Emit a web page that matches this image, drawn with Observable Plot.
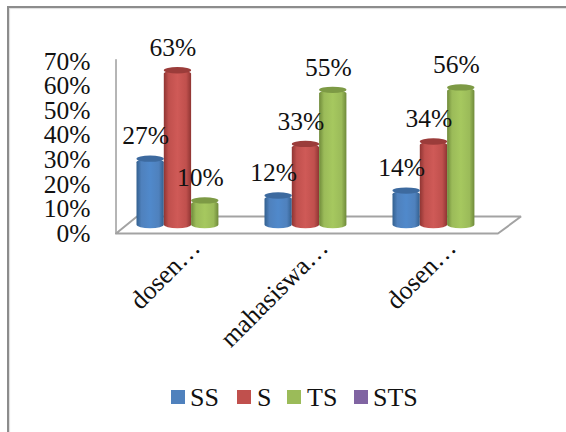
<!DOCTYPE html>
<html>
<head>
<meta charset="utf-8">
<script src="https://cdn.jsdelivr.net/npm/d3@7"></script>
<script src="https://cdn.jsdelivr.net/npm/@observablehq/plot@0.6"></script>
<style>
html,body{margin:0;padding:0;background:#fff;width:566px;height:432px;overflow:hidden;}
#wrap{position:relative;width:566px;height:432px;}
#frame{position:absolute;left:7px;top:6px;right:-4px;bottom:-4px;border:2px solid #8c8c8c;box-shadow:1px 1px 1px #ddd inset;}
#legend{position:absolute;left:0;top:378px;width:566px;height:40px;font:26px "Liberation Serif",serif;color:#111;}
#legend span{position:absolute;top:5px;line-height:30px;}
#legend i{position:absolute;top:12px;width:14px;height:14px;display:block;}
svg{position:absolute;left:0;top:0;font-family:"Liberation Serif",serif;}
</style>
</head>
<body>
<div id="wrap"><div id="frame"></div><div id="legend"></div></div>
<script>
const categories = ["dosen…", "mahasiswa…", "dosen…"];
const seriesNames = ["SS", "S", "TS", "STS"];
const valuesSS = [27, 12, 14];
const valuesS = [63, 33, 34];
const valuesTS = [10, 55, 56];
const valuesSTS = [];
const seriesValues = [valuesSS, valuesS, valuesTS, valuesSTS];
const swatchColors = ["#4f81bd", "#c0504d", "#9bbb59", "#8064a2"];
const capColors = ["#3d6a9f", "#9b3c3a", "#7d9a45", "#674f85"];
const edgeColors = ["#33608f", "#8f3533", "#6f8a3a", "#5d4878"];
const midColors = ["#5089cb", "#cf5a57", "#a6c85f", "#8a6cae"];
const yTicks = [0, 10, 20, 30, 40, 50, 60, 70];
// floor outline and wall, in chart units (x: category widths, y: percent)
const floorX = [-0.164, 0, 3, 2.82, -0.164];
const floorY = [0, 6.9, 6.9, 0, 0];
const wallX = [-0.164, -0.164];
const wallY = [0, 70.7];
const slotWidth = 0.2133;

const bars = seriesValues.flatMap((vals, s) =>
  vals.map((v, c) => ({category: c, series: s, value: v,
    x1: c + s * slotWidth, x2: c + (s + 1) * slotWidth})));

const defs = () => {
  const d = d3.create("svg:defs");
  seriesNames.forEach((n, i) => {
    const g = d.append("linearGradient").attr("id", "cyl" + i).attr("x1", 0).attr("x2", 1).attr("y1", 0).attr("y2", 0);
    [[0, edgeColors[i]], [0.18, swatchColors[i]], [0.5, midColors[i]], [0.82, swatchColors[i]], [1, edgeColors[i]]]
      .forEach(([o, c]) => g.append("stop").attr("offset", o).attr("stop-color", c));
  });
  return d.node();
};

const baseShift = -8;
const capHalf = 1.3;

const chart = Plot.plot({
  width: 566, height: 432,
  marginLeft: 116, marginRight: 45, marginTop: 61, marginBottom: 199,
  style: {background: "transparent", fontFamily: '"Liberation Serif",serif', overflow: "visible"},
  x: {domain: [0, 3], range: [136.5, 520.5], axis: null},
  y: {domain: [0, 70], range: [233, 61]},
  marks: [
    defs,
    Plot.line(floorX.map((x, i) => ({x, y: floorY[i]})), {x: "x", y: "y", stroke: "#a3a3a3", strokeWidth: 2, strokeLinejoin: "miter"}),
    Plot.line(wallX.map((x, i) => ({x, y: wallY[i]})), {x: "x", y: "y", stroke: "#a3a3a3", strokeWidth: 1.6}),
    Plot.axisY({ticks: yTicks, tickFormat: d => d + "%", tickSize: 0, tickPadding: 26, label: null, fontSize: 25.5, fill: "#111"}),
    ...seriesNames.map((n, s) => Plot.rect(bars.filter(b => b.series === s), {
      x1: "x1", x2: "x2", y1: () => -capHalf, y2: "value", dy: baseShift, rx: 13.6, ry: 3.6, fill: `url(#cyl${s})`
    })),
    ...seriesNames.map((n, s) => Plot.rect(bars.filter(b => b.series === s), {
      x1: "x1", x2: "x2", y1: d => d.value - capHalf, y2: d => d.value + capHalf, dy: baseShift, rx: 13.6, ry: 3.2, fill: capColors[s]
    })),
    Plot.text(bars, {
      x: d => (d.x1 + d.x2) / 2, y: "value", text: d => d.value + "%",
      dx: -5, dy: baseShift - 23, fontSize: 25.5, fill: "#111"
    }),
    Plot.text(categories.map((t, i) => ({t, i})), {
      x: d => d.i + 0.46, y: () => 0, text: "t", rotate: -45, textAnchor: "end",
      dy: 10, dx: 0, fontSize: 26, fill: "#111"
    })
  ]
});
document.getElementById("wrap").appendChild(chart);

const legend = document.getElementById("legend");
const swatchX = [171, 237, 287, 354];
const labelX = [190, 257, 307, 373];
seriesNames.forEach((n, i) => {
  const sw = document.createElement("i");
  sw.style.left = swatchX[i] + "px";
  sw.style.background = swatchColors[i];
  legend.appendChild(sw);
  const t = document.createElement("span");
  t.style.left = labelX[i] + "px";
  t.textContent = n;
  legend.appendChild(t);
});
</script>
</body>
</html>
